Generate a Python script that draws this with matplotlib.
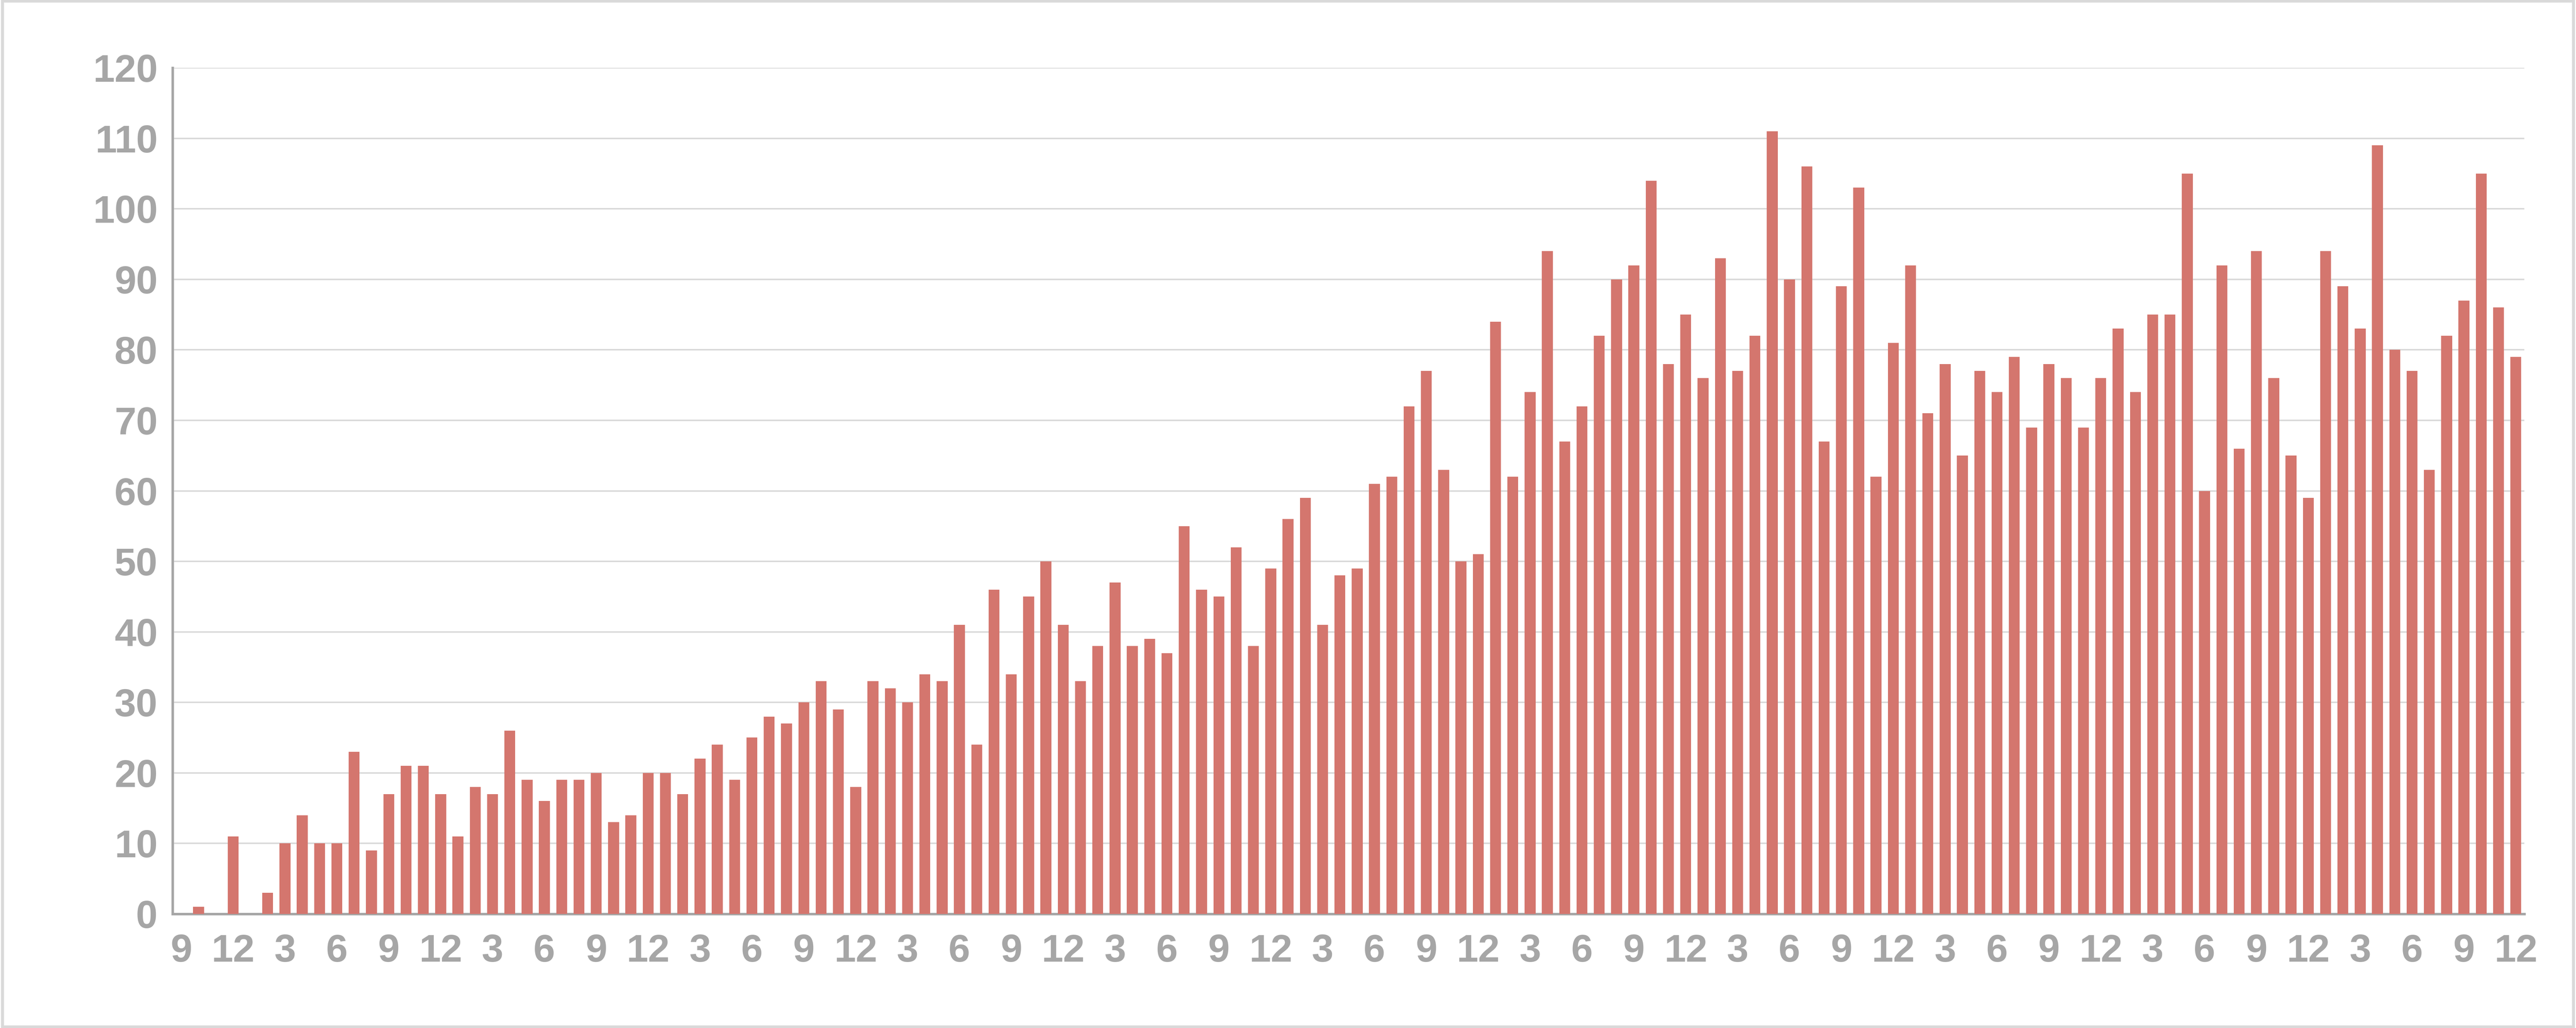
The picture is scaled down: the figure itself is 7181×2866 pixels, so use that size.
import matplotlib
matplotlib.use("Agg")
import matplotlib.pyplot as plt

values = [0, 1, 0, 11, 0, 3, 10, 14, 10, 10, 23, 9, 17, 21, 21, 17, 11, 18, 17, 26,
          19, 16, 19, 19, 20, 13, 14, 20, 20, 17, 22, 24, 19, 25, 28, 27, 30, 33, 29, 18,
          33, 32, 30, 34, 33, 41, 24, 46, 34, 45, 50, 41, 33, 38, 47, 38, 39, 37, 55, 46,
          45, 52, 38, 49, 56, 59, 41, 48, 49, 61, 62, 72, 77, 63, 50, 51, 84, 62, 74, 94,
          67, 72, 82, 90, 92, 104, 78, 85, 76, 93, 77, 82, 111, 90, 106, 67, 89, 103, 62, 81,
          92, 71, 78, 65, 77, 74, 79, 69, 78, 76, 69, 76, 83, 74, 85, 85, 105, 60, 92, 66,
          94, 76, 65, 59, 94, 89, 83, 109, 80, 77, 63, 82, 87, 105, 86, 79]
start_month = 9
months = [((start_month - 1 + i) % 12) + 1 for i in range(len(values))]
tick_idx = [i for i, m in enumerate(months) if m % 3 == 0]
tick_labels = [str(months[i]) for i in tick_idx]
yticks = list(range(0, 121, 10))

fig = plt.figure(figsize=(71.81, 28.66), dpi=100)
fig.patches.append(plt.Rectangle((0.001, 0.001), 0.998, 0.998, transform=fig.transFigure,
                                 fill=False, edgecolor="#D9D9D9", linewidth=6))
ax = fig.add_axes([0.067, 0.111, 0.913, 0.823])
x = list(range(len(values)))
ax.bar(x, values, width=0.63, color="#D4766E", zorder=3)
ax.set_xlim(-0.5, len(values) - 0.5)
ax.set_ylim(0, 120)
ax.set_yticks(yticks)
ax.set_xticks(tick_idx)
ax.set_xticklabels(tick_labels)
ax.grid(axis="y", color="#D9D9D9", linewidth=3, zorder=0)
for s in ["top", "right"]:
    ax.spines[s].set_visible(False)
for s in ["left", "bottom"]:
    ax.spines[s].set_color("#A6A6A6")
    ax.spines[s].set_linewidth(5)
ax.tick_params(axis="both", length=0, labelsize=78, labelcolor="#A6A6A6")
ax.tick_params(axis="x", pad=40)
ax.tick_params(axis="y", pad=30)
for lab in ax.get_xticklabels() + ax.get_yticklabels():
    lab.set_fontfamily("Liberation Sans")
    lab.set_fontweight("bold")
fig.savefig("out.png", dpi=100, facecolor="white")
